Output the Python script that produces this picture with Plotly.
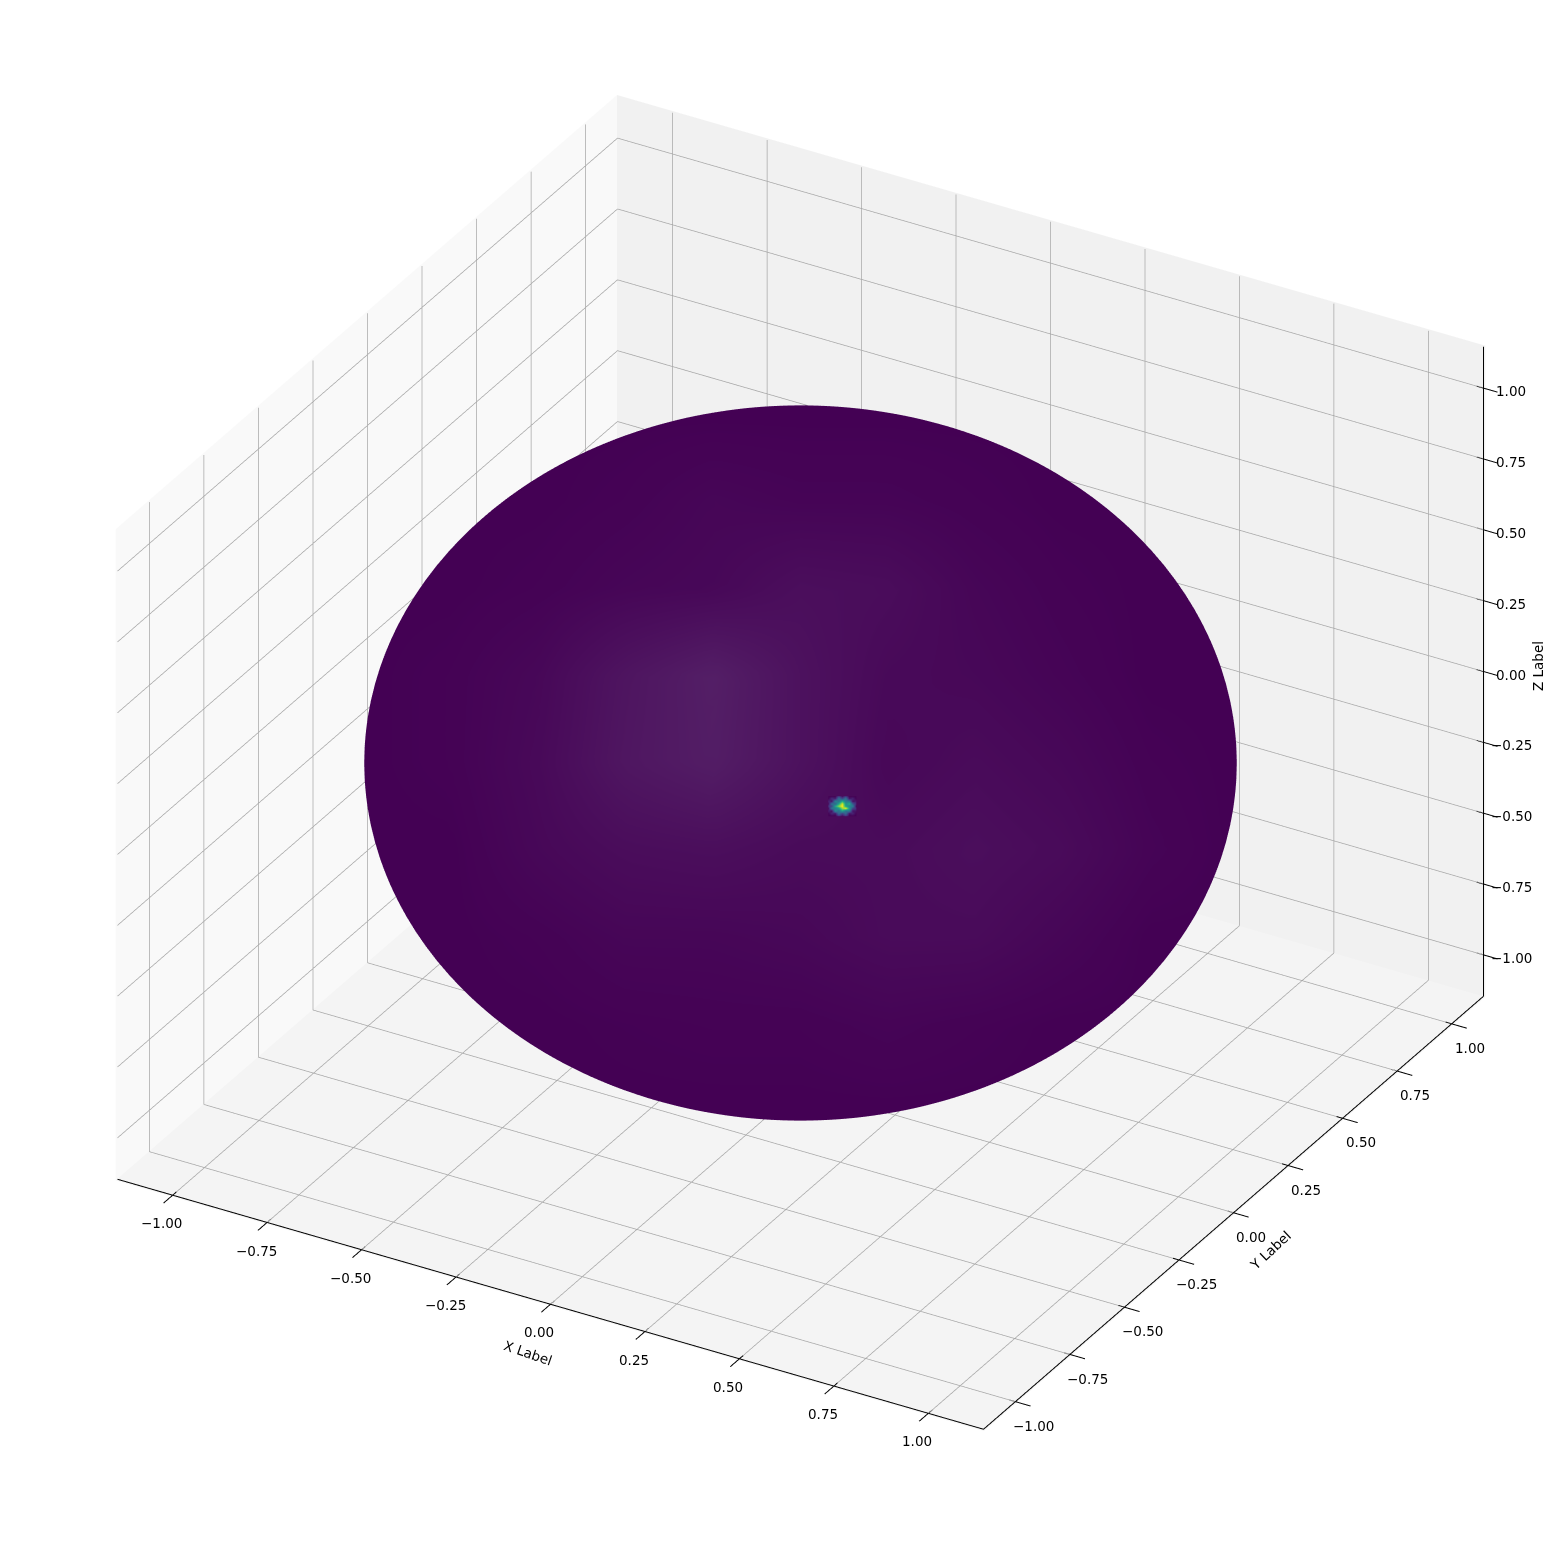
import numpy as np
import plotly.graph_objects as go

tick_vals = [-1.0, -0.75, -0.5, -0.25, 0.0, 0.25, 0.5, 0.75, 1.0]
tick_text = ["−1.00", "−0.75", "−0.50", "−0.25", "0.00", "0.25", "0.50", "0.75", "1.00"]
box = 1.146    # edge of the drawn box
scene_lim = 1.22    # a bit more than box so the ticks are not clipped

# sphere mesh, degrees
colat_deg = list(range(0, 181, 2))
lon_deg = list(range(0, 361, 2))

# lighter moire areas on a screen-aligned grid
tint_u = [-1.0, -0.8, -0.6, -0.4, -0.2, 0.0, 0.2, 0.4, 0.6, 0.8, 1.0]
tint_v = [0.8, 0.6, 0.4, 0.2, 0.0, -0.2, -0.4, -0.6, -0.8]
tint_vals = [
    [0, 0, 0, 0, 0, 0, 0, 0, 0, 0, 0],
    [0, 0, 0, 0.05, 0.15, 0.1, 0.1, 0.05, 0, 0, 0],
    [0, 0, 0.05, 0.15, 0.2, 0.4, 0.35, 0.15, 0.05, 0, 0],
    [0, 0.05, 0.2, 0.6, 0.9, 0.5, 0.25, 0.2, 0.1, 0, 0],
    [0, 0.05, 0.25, 0.65, 0.85, 0.5, 0.2, 0.3, 0.2, 0.05, 0],
    [0, 0, 0.2, 0.35, 0.4, 0.3, 0.3, 0.4, 0.3, 0.1, 0],
    [0, 0, 0.05, 0.15, 0.15, 0.2, 0.3, 0.3, 0.15, 0, 0],
    [0, 0, 0, 0.03, 0.05, 0.05, 0.1, 0.05, 0, 0, 0],
    [0, 0, 0, 0, 0, 0, 0, 0, 0, 0, 0],
]

# bright spot
hot_u = [0.064, 0.072, 0.080, 0.088, 0.096, 0.104, 0.112, 0.120, 0.128]
hot_v = [-0.076, -0.082, -0.088, -0.094, -0.099, -0.104, -0.110, -0.116, -0.122]
hot_vals = [
    [0, 0, 0, 0.18, 0.02, 0.16, 0, 0, 0],
    [0, 0.12, 0.08, 0.38, 0.22, 0.4, 0.06, 0.1, 0],
    [0.12, 0.05, 0.45, 0.38, 0.62, 0.42, 0.4, 0.04, 0.08],
    [0.02, 0.38, 0.32, 0.6, 0.95, 0.5, 0.62, 0.28, 0.12],
    [0.18, 0.22, 0.58, 0.82, 1.0, 0.55, 0.45, 0.42, 0.02],
    [0.02, 0.4, 0.42, 0.55, 0.85, 0.98, 0.55, 0.22, 0.14],
    [0.1, 0.04, 0.48, 0.36, 0.58, 0.36, 0.42, 0.05, 0.06],
    [0, 0.1, 0.06, 0.36, 0.2, 0.35, 0.05, 0.1, 0],
    [0, 0, 0, 0.14, 0.02, 0.16, 0, 0, 0],
]

# elev 30, azim -60
right = np.array([0.8660254, 0.5, 0.0])
up = np.array([-0.25, 0.4330127, 0.8660254 * 0.75])
ray = np.array([0.4330127, -0.75, 0.5 / 0.75])
eye = np.array([0.4330127, -0.75, 0.5])


def view_to_sphere(us, vs, radius):
    # screen-aligned (u, v) onto the front of the sphere
    uu, vv = np.meshgrid(us, vs)
    a = np.linalg.inv(np.array([right, up, ray]))
    px = a[:, 0, None, None] * uu + a[:, 1, None, None] * vv
    b = (px * ray[:, None, None]).sum(axis=0)
    c = (px * px).sum(axis=0) - radius ** 2
    d = (ray * ray).sum()
    t = (-b + np.sqrt(b * b - d * c)) / d
    return px + ray[:, None, None] * t


colat = np.radians(colat_deg)
lon = np.radians(lon_deg)
sx = np.outer(np.sin(colat), np.cos(lon))
sy = np.outer(np.sin(colat), np.sin(lon))
sz = np.outer(np.cos(colat), np.ones(len(lon)))

# tint of each mesh vertex from the table above
su = right[0] * sx + right[1] * sy
sv = up[0] * sx + up[1] * sy + up[2] * sz
iu = np.clip((su + 1.0) / 0.2, 0, len(tint_u) - 1.001)
iv = np.clip((0.8 - sv) / 0.2, 0, len(tint_v) - 1.001)
i0, j0 = iv.astype(int), iu.astype(int)
fi, fj = iv - i0, iu - j0
tv = np.array(tint_vals)
s_color = (tv[i0, j0] * (1 - fi) * (1 - fj) + tv[i0, j0 + 1] * (1 - fi) * fj
           + tv[i0 + 1, j0] * fi * (1 - fj) + tv[i0 + 1, j0 + 1] * fi * fj)

flat = dict(ambient=1, diffuse=0, specular=0, roughness=1, fresnel=0)
fig = go.Figure()
fig.add_trace(go.Surface(x=sx, y=sy, z=sz, surfacecolor=s_color, cmin=0, cmax=1,
                         colorscale=[[0, "#440154"], [1, "#552268"]], showscale=False,
                         lighting=flat, hoverinfo="skip"))

hx, hy, hz = view_to_sphere(hot_u, hot_v, 1.006)
fig.add_trace(go.Surface(x=hx, y=hy, z=hz, surfacecolor=np.array(hot_vals), cmin=0, cmax=1,
                         colorscale="Viridis", showscale=False, lighting=flat, hoverinfo="skip"))


def pane(xs, ys, zs, color):
    fig.add_trace(go.Surface(x=xs, y=ys, z=zs, surfacecolor=np.zeros((2, 2)), cmin=0, cmax=1,
                             colorscale=[[0, color], [1, color]], showscale=False,
                             lighting=flat, hoverinfo="skip"))


def lines(segments, color, width):
    xs, ys, zs = [], [], []
    for a, b in segments:
        xs += [a[0], b[0], None]
        ys += [a[1], b[1], None]
        zs += [a[2], b[2], None]
    fig.add_trace(go.Scatter3d(x=xs, y=ys, z=zs, mode="lines", line=dict(color=color, width=width),
                               hoverinfo="skip"))


p = box + 0.003
pane([[-p, -p], [-p, -p]], [[-p, p], [-p, p]], [[-p, -p], [p, p]], "#f9f9f9")
pane([[-p, p], [-p, p]], [[p, p], [p, p]], [[-p, -p], [p, p]], "#f1f1f1")
pane([[-p, p], [-p, p]], [[-p, -p], [p, p]], [[-p, -p], [-p, -p]], "#f4f4f4")

grid = []
for t in tick_vals:
    grid.append(((t, -box, -box), (t, box, -box)))
    grid.append(((t, box, -box), (t, box, box)))
    grid.append(((-box, t, -box), (box, t, -box)))
    grid.append(((-box, t, -box), (-box, t, box)))
    grid.append(((-box, -box, t), (-box, box, t)))
    grid.append(((-box, box, t), (box, box, t)))
lines(grid, "#a8a8a8", 1.5)

edges = [((-box, -box, -box), (box, -box, -box)),
         ((box, -box, -box), (box, box, -box)),
         ((box, box, -box), (box, box, box))]
ticks = []
for t in tick_vals:
    ticks.append(((t, -box + 0.017, -box), (t, -box - 0.042, -box)))
    ticks.append(((box - 0.016, t, -box), (box + 0.04, t, -box)))
    ticks.append(((box - 0.018, box, t), (box + 0.037, box, t)))
lines(edges + ticks, "black", 2)

label_font = dict(family="DejaVu Sans", size=13.5, color="black")
notes = []
for t, s in zip(tick_vals, tick_text):
    notes.append(dict(x=t, y=-box, z=-box, text=s, xshift=-11, yshift=-28))
    notes.append(dict(x=box, y=t, z=-box, text=s, xshift=18, yshift=-24))
    notes.append(dict(x=box, y=box, z=t, text=s, xshift=28, yshift=-3))
notes.append(dict(x=0, y=-box, z=-box, text="X Label", xshift=-22, yshift=-49, textangle=19))
notes.append(dict(x=box, y=0, z=-box, text="Y Label", xshift=37, yshift=-37, textangle=-43))
notes.append(dict(x=box, y=box, z=0, text="Z Label", xshift=54, yshift=6, textangle=-90))
for n in notes:
    n.update(showarrow=False, font=label_font)

hidden = dict(range=[-scene_lim, scene_lim], autorange=False, visible=False)

d = 3.0
zoom = 1.41
fig.update_layout(
    width=1560, height=1560,
    margin=dict(l=0, r=0, t=0, b=0),
    paper_bgcolor="white",
    showlegend=False,
    scene=dict(
        domain=dict(x=[0.016, 1], y=[0.032, 1]),
        aspectmode="manual",
        aspectratio=dict(x=zoom, y=zoom, z=0.75 * zoom),
        camera=dict(projection=dict(type="orthographic"),
                    up=dict(x=0, y=0, z=1),
                    center=dict(x=0, y=0, z=0),
                    eye=dict(x=eye[0] * d, y=eye[1] * d, z=eye[2] * d)),
        xaxis=hidden, yaxis=hidden, zaxis=hidden,
        annotations=notes,
    ),
)

fig.write_html("out.html")
